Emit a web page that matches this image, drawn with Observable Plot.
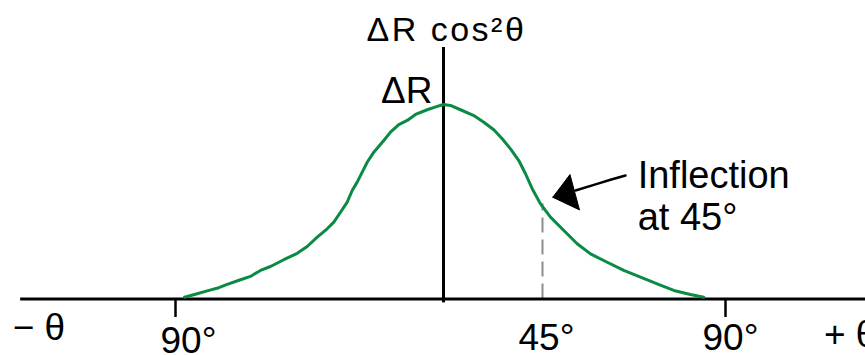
<!DOCTYPE html>
<html><head><meta charset="utf-8">
<script src="https://cdn.jsdelivr.net/npm/d3@7"></script>
<script src="https://cdn.jsdelivr.net/npm/@observablehq/plot@0.6"></script>
<style>html,body{margin:0;padding:0;background:#fff;overflow:hidden}</style>
</head><body><div id="chart"></div>
<script>
// angle (degrees) and relative value (fraction of ΔR)
const curveTheta = [-86.98,-82.71,-79.35,-75.46,-72.64,-68.17,-64.81,-61.46,-58.10,-53.63,-49.13,-45.77,-42.41,-39.06,-36.84,-34.59,-32.34,-30.66,-28.98,-27.30,-25.62,-23.41,-20.05,-17.80,-15.01,-12.19,-9.40,-5.47,-2.12,0,3.18,7.73,13.77,18.32,22.86,26.68,30.45,34.23,37.27,40.32,44.09,46.97,50.24,53.53,56.80,60.91,64.99,69.10,73.20,77.29,81.39,84.66];
const curveValue = [0.009,0.027,0.042,0.058,0.075,0.099,0.116,0.147,0.167,0.202,0.235,0.270,0.318,0.361,0.395,0.446,0.498,0.558,0.601,0.652,0.703,0.755,0.815,0.858,0.897,0.918,0.949,0.973,0.990,1.0,0.995,0.973,0.943,0.909,0.870,0.824,0.772,0.712,0.644,0.567,0.489,0.421,0.352,0.284,0.232,0.189,0.147,0.112,0.078,0.044,0.023,0.009];
const tickAngles = [-90, 90];
const tickLabels = ["90°", "45°", "90°"];
const inflectionAngle = 45;
const inflectionValue = 0.49;
const axisXExtent = [-142, 126];
const axisYExtent = [-0.02, 1.293];
const tickDepth = -0.095;
const arrowTailTheta = [53.11, 58.45, 61.72, 65.41];
const arrowTailValue = [0.558, 0.592, 0.613, 0.635];
const arrowHeadTheta = [47.53, 51.76, 52.87, 54.10, 47.53];
const arrowHeadValue = [0.523, 0.640, 0.553, 0.458, 0.523];
const noteTheta = 68.4, noteValue = 0.722;
const noteText = "Inflection\nat 45°";
const titleText = "ΔR cos²θ";
const peakText = "ΔR";

const curve = curveTheta.map((t, i) => ({t, v: curveValue[i]}));
const tail = arrowTailTheta.map((t, i) => ({t, v: arrowTailValue[i]}));
const head = arrowHeadTheta.map((t, i) => ({t, v: arrowHeadValue[i]}));
const font = "'Liberation Sans', Arial, Helvetica, sans-serif";
// the schematic's angle axis is not uniform: piecewise mapping of the angle
const angleWarp = d3.scaleLinear().domain([-90, 0, 45, 90]).range([175, 443, 542, 725]);

const chart = Plot.plot({
  width: 865, height: 355,
  marginTop: 0, marginRight: 0, marginBottom: 0, marginLeft: 0,
  x: {type: "linear", transform: (d) => angleWarp(d), domain: [0, 865], range: [0, 865], axis: null},
  y: {domain: [0, 1], range: [298.5, 104], axis: null},
  style: {fontFamily: font, background: "#fff", color: "#000", overflow: "hidden"},
  marks: [
    Plot.ruleX([inflectionAngle], {y1: 0, y2: inflectionValue, stroke: "#8c8c8c", strokeWidth: 2, strokeDasharray: "15,7"}),
    Plot.ruleY([0], {x1: axisXExtent[0], x2: axisXExtent[1], stroke: "#000", strokeWidth: 3}),
    Plot.ruleX([0], {y1: axisYExtent[0], y2: axisYExtent[1], stroke: "#000", strokeWidth: 3}),
    Plot.ruleX(tickAngles, {y1: 0, y2: tickDepth, stroke: "#000", strokeWidth: 2.5}),
    Plot.line(curve, {x: "t", y: "v", stroke: "#0a8a44", strokeWidth: 3}),
    Plot.line(tail, {x: "t", y: "v", stroke: "#000", strokeWidth: 2.5}),
    Plot.line(head, {x: "t", y: "v", stroke: "#000", strokeWidth: 1, fill: "#000"}),
    Plot.text([tickLabels[0]], {x: tickAngles[0], y: 0, dx: -15, dy: 53.5, textAnchor: "start", lineAnchor: "bottom", fontSize: 37}),
    Plot.text([tickLabels[1]], {x: inflectionAngle, y: 0, dx: -24, dy: 51, textAnchor: "start", lineAnchor: "bottom", fontSize: 37}),
    Plot.text([tickLabels[2]], {x: tickAngles[1], y: 0, dx: -23, dy: 51, textAnchor: "start", lineAnchor: "bottom", fontSize: 37}),
    Plot.text(["− θ"], {x: axisXExtent[0], y: 0, dx: -8, dy: 40.5, textAnchor: "start", lineAnchor: "bottom", fontSize: 37}),
    Plot.text(["+ θ"], {x: axisXExtent[1], y: 0, dx: -48, dy: 47.5, textAnchor: "start", lineAnchor: "bottom", fontSize: 37}),
    Plot.text([peakText], {x: 0, y: 1, dx: -11, dy: -2, textAnchor: "end", lineAnchor: "bottom", fontSize: 37}),
    Plot.text([titleText], {x: 0, frameAnchor: "top", dx: -77, dy: 40, textAnchor: "start", lineAnchor: "bottom", fontSize: 34}),
    Plot.text([noteText], {x: noteTheta, y: noteValue, textAnchor: "start", lineAnchor: "top", lineHeight: 1.1, fontSize: 38})
  ]
});
d3.select(chart).selectAll("text")
  .filter(function () { return this.textContent === titleText; })
  .attr("letter-spacing", "2.5px");
document.getElementById("chart").appendChild(chart);
</script>
</body></html>
